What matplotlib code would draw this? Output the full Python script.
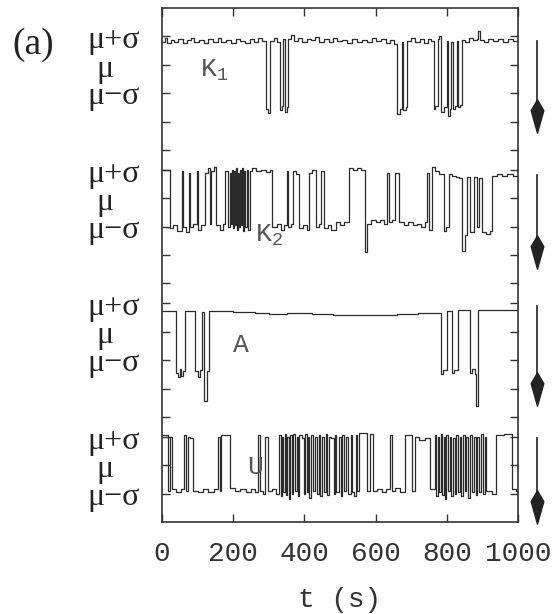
import matplotlib
matplotlib.use("Agg")
import matplotlib.pyplot as plt
import numpy as np
from matplotlib.path import Path

plt.rcParams["mathtext.fontset"] = "custom"
plt.rcParams["mathtext.tt"] = "Liberation Mono"
plt.rcParams["mathtext.rm"] = "Liberation Mono"

# switching traces, values in units of sigma relative to mu (step after each time)
k1_t = [0, 8, 14, 24, 35, 46, 58, 70, 82, 90, 104, 118, 130, 142, 156, 166, 180, 194,
        208, 220, 232, 246, 258, 270, 280, 292, 298, 304, 314, 322, 331, 337, 341, 345,
        350, 354, 362, 370, 382, 394, 406, 418, 430, 442, 456, 468, 480, 492, 506, 520,
        534, 548, 562, 576, 590, 602, 616, 628, 640, 652, 660, 668, 674, 677, 684, 688,
        700, 712, 724, 736, 748, 756, 763, 768, 774, 778, 785, 792, 800, 803, 808, 812,
        818, 824, 828, 832, 838, 843, 852, 862, 874, 884, 889, 892, 904, 916, 930, 944,
        958, 972, 986, 1000]
k1_y = [0.80, 0.95, 0.75, 0.88, 0.80, 0.92, 0.78, 0.86, 0.95, 0.80, 0.88, 0.76, 0.90,
        0.82, 0.94, 0.80, 0.86, 0.78, 0.92, 0.84, 0.76, 0.90, 0.82, 0.96, 0.84, -1.55,
        -1.70, 0.85, 0.95, 0.80, -1.60, -1.45, 0.90, -1.65, -1.50, 0.90, 1.05, 0.85, 0.95,
        0.80, 0.92, 0.86, 0.98, 0.82, 0.90, 0.80, 0.94, 0.84, 0.88, 0.78, 0.92, 0.82, 0.88,
        0.80, 0.94, 0.84, 0.90, 0.78, 0.88, 0.72, -1.75, -1.55, 0.80, -1.60, -1.50, 0.85,
        0.95, 0.82, 0.92, 0.78, 0.90, 0.84, -1.55, -1.45, 0.90, 1.00, -1.65, -1.50, 0.85,
        -1.80, -1.55, 0.80, -1.55, -1.45, 0.85, -1.50, -1.40, 0.88, 0.82, 0.94, 0.86, 0.90,
        1.20, 0.86, 0.80, 0.92, 0.84, 0.90, 0.80, 0.92, 0.84, 0.84]

k2_t = [0, 22, 32, 42, 55, 60, 68, 75, 79, 88, 97, 101, 110, 120, 128, 134, 138, 146,
        153, 162, 170, 176, 185, 190, 193, 196, 199, 202, 205, 207, 210, 213, 216, 219,
        222, 225, 228, 231, 234, 238, 242, 247, 252, 264, 278, 292, 302, 310, 322, 334,
        344, 350, 353, 362, 367, 376, 385, 396, 406, 413, 422, 432, 440, 446, 456, 466,
        476, 488, 500, 512, 524, 536, 548, 560, 571, 575, 588, 600, 612, 624, 632, 637,
        646, 655, 666, 680, 692, 704, 716, 728, 740, 744, 749, 758, 766, 778, 791, 798,
        805, 815, 825, 835, 843, 850, 857, 866, 875, 885, 890, 899, 910, 920, 927, 940,
        955, 970, 985, 1000]
k2_y = [1.00, -1.05, -0.95, -1.15, 0.95, -1.00, -1.20, 0.90, -1.00, -0.90, 0.95, -1.10,
        -0.95, 0.90, 1.05, -0.90, 0.95, 1.10, -0.95, -1.10, -0.90, 0.95, -1.00, 0.90,
        -0.90, 1.00, -1.05, 0.95, -0.95, 1.05, -1.10, 0.90, -1.00, 1.00, -0.95, 1.05,
        -1.15, 0.95, -1.00, 1.00, -1.10, 0.95, 1.05, 0.95, 1.00, 0.92, 1.00, -1.00, -0.90,
        -1.10, -0.95, 0.95, -1.00, -0.90, 0.95, 0.85, -1.05, -0.95, -1.10, 0.90, 1.00,
        -1.00, -0.90, 0.95, -1.05, -0.95, -1.10, -0.85, -0.95, -0.85, 1.05, 1.00, 1.08,
        1.00, -1.90, -0.90, -0.75, -0.85, -0.75, -0.90, 0.90, -0.85, -0.75, 0.90, -0.85,
        -0.95, -0.85, -0.95, -0.90, -1.00, -0.85, 0.90, -1.10, 1.10, 0.95, 0.85, -1.15,
        -1.00, 0.85, 0.80, 0.75, 0.70, -1.85, -1.30, 0.75, -1.20, 0.75, -1.00, 0.70,
        -1.20, -1.25, -1.15, 0.80, 0.85, 0.80, 0.85, 0.80, 0.80]

a_t = [0, 38, 44, 50, 54, 60, 66, 93, 100, 106, 112, 119, 126, 132, 150, 200, 260, 300,
       350, 420, 480, 540, 600, 660, 720, 784, 790, 800, 814, 820, 831, 866, 872, 878,
       882, 887, 1000]
a_y = [0.72, -1.45, -1.60, -1.30, -1.55, -1.40, 0.72, -1.40, -1.60, -1.35, 0.70, -2.45,
       -1.40, 0.72, 0.74, 0.68, 0.65, 0.62, 0.66, 0.62, 0.60, 0.58, 0.60, 0.62, 0.66,
       -1.50, -1.35, 0.72, -1.45, -1.35, 0.75, -1.45, -1.30, -1.50, -2.60, 0.78, 0.78]

u_t = [0, 18, 23, 28, 40, 52, 62, 67, 73, 80, 87, 100, 115, 130, 145, 157, 162, 167,
       190, 205, 220, 235, 250, 262, 270, 275, 285, 290, 299, 310, 320, 330, 334, 338,
       341, 345, 349, 352, 356, 360, 365, 369, 373, 378, 382, 386, 392, 398, 402, 406,
       410, 414, 418, 424, 430, 434, 440, 445, 450, 455, 460, 464, 470, 476, 482, 486,
       490, 497, 502, 507, 512, 518, 523, 530, 534, 540, 545, 549, 553, 575, 584, 593,
       605, 618, 630, 640, 645, 655, 668, 683, 702, 712, 722, 738, 754, 767, 771, 775,
       779, 783, 787, 791, 795, 799, 804, 808, 812, 817, 822, 826, 831, 836, 840, 845,
       850, 855, 860, 865, 870, 876, 881, 886, 891, 896, 901, 906, 911, 918, 928, 937,
       960, 984, 995, 1000]
u_y = [1.05, -0.90, 1.00, -0.85, -0.95, -0.85, 1.05, -0.90, 1.00, 0.95, -0.90, -0.95,
       -0.85, -0.95, -0.85, 1.00, -0.90, 1.05, -0.80, -0.90, -0.85, -0.95, -0.85, -0.95,
       1.05, -0.90, -1.00, 1.00, -0.90, -0.85, -1.00, 1.05, -1.10, 1.00, -0.95, 1.10,
       -1.05, 1.00, -1.20, 1.05, -1.00, 1.10, -0.90, 1.00, -1.10, 1.05, 0.95, -1.00,
       1.10, -0.95, 1.00, -1.15, 1.05, -0.90, 1.00, -1.00, 1.05, -1.10, 1.00, -0.95,
       1.10, -1.05, 1.00, 0.95, -1.00, 1.05, -0.95, 1.00, -1.10, 1.05, -0.90, 1.00,
       -1.00, 1.05, -0.95, -1.10, 1.05, -0.90, 1.15, -0.90, 1.10, -0.90, -0.85, -0.95,
       -0.85, 1.05, -0.90, -0.80, -0.95, 1.05, -0.90, 1.00, 0.90, 0.95, -0.85, 1.05,
       -1.10, 1.00, -0.95, 1.10, -1.05, 1.00, -1.20, 1.05, -0.90, 1.00, -1.10, 0.95,
       -1.00, 1.05, -0.95, 1.00, -1.10, 1.05, -0.90, 1.00, -1.15, 1.05, -0.95, 1.00,
       -1.05, 1.00, -0.95, 1.10, -1.00, 1.00, -0.90, -0.90, -1.00, 1.05, 1.10, -0.85,
       -0.90, -0.90]

traces = [(k1_t, k1_y), (k2_t, k2_y), (a_t, a_y), (u_t, u_y)]
trace_names = ["K$_1$", "K$_2$", "A", "U"]
level_labels = ["\u03bc+\u03c3", "\u03bc", "\u03bc\u2212\u03c3"]
x_ticks = [0, 200, 400, 600, 800, 1000]

SPACING = 4.7
SERIF = "Liberation Serif"
MONO = "Liberation Mono"
INK = "#2b2b2b"

# spear-shaped arrow head, widest in its upper part
KITE = Path([(0, 1), (0.38, 0.35), (0, -1), (-0.38, 0.35), (0, 1)],
            [Path.MOVETO, Path.LINETO, Path.LINETO, Path.LINETO, Path.CLOSEPOLY])


def main():
    fig = plt.figure(figsize=(5.58, 6.14), dpi=100)
    ax = fig.add_axes([162 / 558, 1 - 522 / 614, 356 / 558, 514 / 614])

    for k, (t, y) in enumerate(traces):
        off = -SPACING * k
        ax.plot(t, np.array(y) + off, drawstyle="steps-post", color=INK, lw=0.9)

    ax.set_xlim(0, 1000)
    ax.set_ylim(-3 * SPACING - 2.0, 2.0)

    yticks = []
    for k in range(4):
        n = 5 if k < 3 else 3
        yticks += [-SPACING * k + 1 - j for j in range(n)]
    ax.set_yticks(yticks)
    ax.set_yticklabels([])
    ax.set_xticks(x_ticks)
    ax.set_xticklabels([str(v) for v in x_ticks], family=MONO, fontsize=20,
                       color="#333333")
    ax.tick_params(direction="in", length=6, width=1.0, color="#333333",
                   top=True, right=True)
    ax.tick_params(axis="x", pad=14)
    for s in ax.spines.values():
        s.set_linewidth(1.2)
        s.set_color("#333333")

    ax.set_xlabel("t (s)", family=MONO, fontsize=20, color="#333333", labelpad=14)

    # level labels and trace names
    lab_trans = ax.get_yaxis_transform()
    for k in range(4):
        c = -SPACING * k
        ax.text(-0.135, c + 0.85, level_labels[0], transform=lab_trans, ha="center",
                va="center", family=SERIF, fontsize=23, color="#222222")
        ax.text(-0.16, c - 0.15, level_labels[1], transform=lab_trans, ha="center",
                va="center", family=SERIF, fontsize=23, color="#222222")
        ax.text(-0.135, c - 1.12, level_labels[2], transform=lab_trans, ha="center",
                va="center", family=SERIF, fontsize=23, color="#222222")

    name_pos = [(107, -0.2), (262, -1.3), (200, -0.45), (239, -0.05)]
    for name, (tx, ty), k in zip(trace_names, name_pos, range(4)):
        ax.text(tx, ty - SPACING * k, name, ha="left", va="center", family=MONO,
                fontsize=19, color="#555555")

    # arrows on the right: shaft plus spear head
    arrow_span = [(0.85, -2.4), (0.82, -2.5), (0.9, -2.6), (0.96, -2.06)]
    for k, (y0, y1) in enumerate(arrow_span):
        c = -SPACING * k
        ax.plot([1.053, 1.053], [c + y0, c + y1 + 0.6], transform=lab_trans,
                color="#333333", lw=1.3, clip_on=False)
        ax.plot([1.053], [c + y1 + 0.6], transform=lab_trans, marker=KITE,
                markersize=24, color="#222222", clip_on=False, ls="none")

    fig.text(12 / 558, 1 - 45 / 614, "(a)", family=SERIF, fontsize=27,
             va="center", ha="left", color="#222222")

    fig.savefig("out.png", dpi=100)


if __name__ == "__main__":
    main()
